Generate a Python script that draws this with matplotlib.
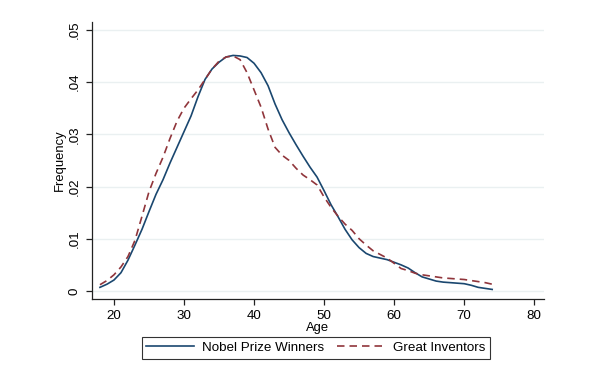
import numpy as np
import matplotlib
matplotlib.use("Agg")
import matplotlib.pyplot as plt

plt.rcParams['font.family'] = ['Liberation Sans', 'DejaVu Sans']

# Age grid for both density curves
ages = list(range(18, 75))

# Nobel Prize Winners density
nobel = [0.0007, 0.0013, 0.0021, 0.0035, 0.0059, 0.0088, 0.0118, 0.0152, 0.0185,
         0.0213, 0.0245, 0.0275, 0.0305, 0.0335, 0.0372, 0.0405, 0.0425, 0.0438,
         0.0448, 0.0451, 0.0450, 0.0447, 0.0436, 0.0418, 0.0393, 0.0358, 0.0328,
         0.0303, 0.0280, 0.0258, 0.0237, 0.0218, 0.0192, 0.0165, 0.0142, 0.0118,
         0.0098, 0.0083, 0.0072, 0.0066, 0.0063, 0.0060, 0.0055, 0.0050, 0.0044,
         0.0035, 0.0027, 0.0023, 0.0019, 0.0017, 0.0016, 0.0015, 0.0014, 0.0011,
         0.0007, 0.0005, 0.0003]

# Great Inventors density
inventors = [0.0012, 0.0020, 0.0031, 0.0046, 0.0066, 0.0097, 0.0143, 0.0190, 0.0225,
             0.0256, 0.0292, 0.0325, 0.0350, 0.0368, 0.0385, 0.0405, 0.0425, 0.0440,
             0.0448, 0.0450, 0.0443, 0.0418, 0.0385, 0.0352, 0.0310, 0.0275, 0.0260,
             0.0250, 0.0235, 0.0222, 0.0213, 0.0203, 0.0180, 0.0160, 0.0143, 0.0128,
             0.0116, 0.0100, 0.0088, 0.0077, 0.0070, 0.0063, 0.0053, 0.0043, 0.0039,
             0.0034, 0.0031, 0.0029, 0.0027, 0.0025, 0.0024, 0.0023, 0.0022, 0.0020,
             0.0018, 0.0016, 0.0013]

xticks = [20, 30, 40, 50, 60, 70, 80]
yticks = [0, 0.01, 0.02, 0.03, 0.04, 0.05]
ylabels = ['0', '.01', '.02', '.03', '.04', '.05']

fig = plt.figure(figsize=(5.98, 3.71), dpi=100)
ax = fig.add_axes([0.1538, 0.1941, 0.7559, 0.7466])

ax.plot(ages, nobel, color='#1a476f', lw=1.2, label='Nobel Prize Winners')
ax.plot(ages, inventors, color='#90353b', lw=1.2, dashes=(4.5, 3),
        label='Great Inventors')

ax.set_xlim(16.86, 81.4)
ax.set_ylim(-0.00153, 0.0515)
ax.set_xticks(xticks)
ax.set_yticks(yticks)
ax.set_yticklabels(ylabels, rotation=90, va='center')

for y in yticks:
    ax.axhline(y, color='#eaf0f1', lw=1, zorder=0)

ax.spines['top'].set_visible(False)
ax.spines['right'].set_visible(False)
for s in ['left', 'bottom']:
    ax.spines[s].set_color('#222222')
    ax.spines[s].set_linewidth(0.9)
ax.tick_params(direction='out', length=4, width=0.9, color='#222222',
               labelsize=9.6, pad=4)

ax.set_xlabel('Age', fontsize=9.4, labelpad=0)
ax.set_ylabel('Frequency', fontsize=9.4, labelpad=2)

leg = fig.legend(loc='center', bbox_to_anchor=(0.528, 0.062), ncol=2,
                 fontsize=9.6, frameon=True, fancybox=False, handlelength=3.6,
                 handletextpad=0.6, columnspacing=0.9, borderpad=0.35,
                 borderaxespad=0)
leg.get_frame().set_edgecolor('#000000')
leg.get_frame().set_linewidth(0.8)

fig.savefig('out.png', dpi=100)
